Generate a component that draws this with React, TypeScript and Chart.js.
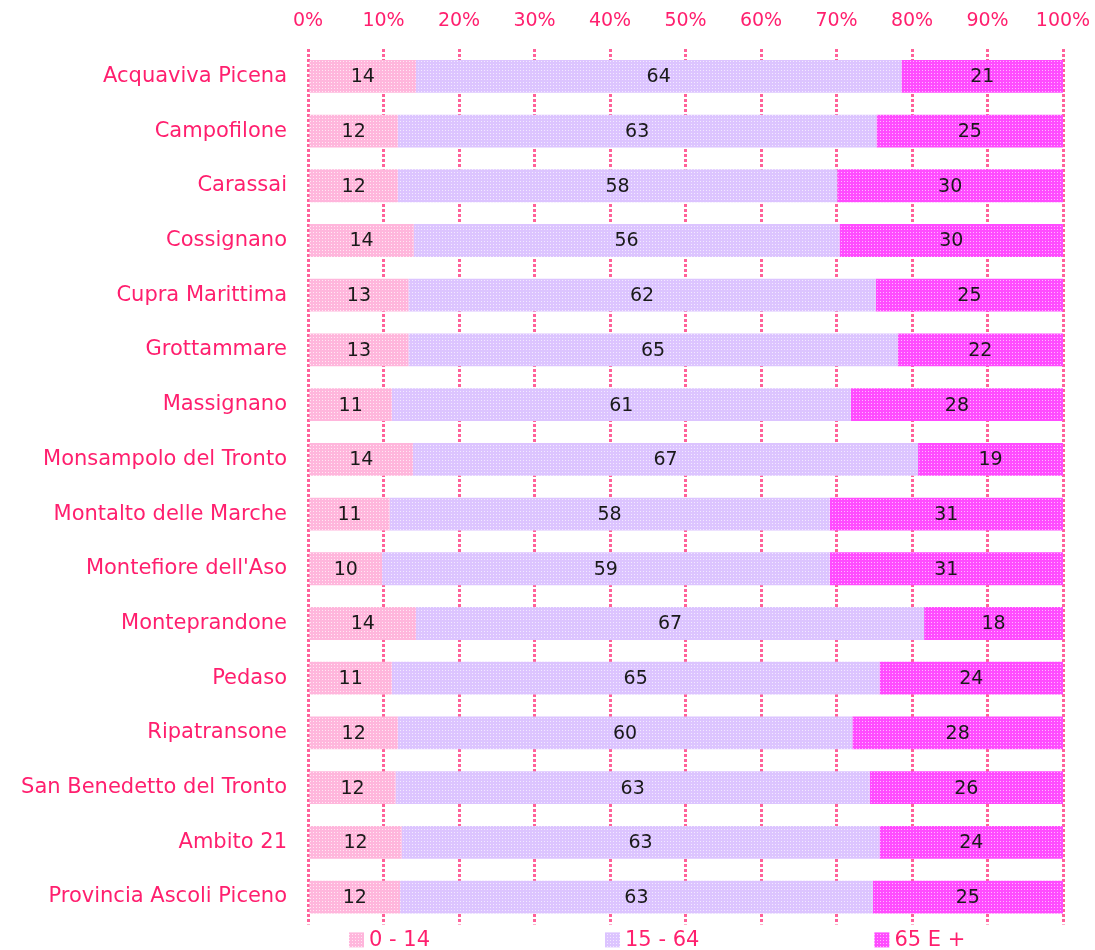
import React, { useEffect, useRef } from "react";
import { Chart, registerables } from "chart.js";

Chart.register(...registerables);

const categories = [
  "Acquaviva Picena",
  "Campofilone",
  "Carassai",
  "Cossignano",
  "Cupra Marittima",
  "Grottammare",
  "Massignano",
  "Monsampolo del Tronto",
  "Montalto delle Marche",
  "Montefiore dell'Aso",
  "Monteprandone",
  "Pedaso",
  "Ripatransone",
  "San Benedetto del Tronto",
  "Ambito 21",
  "Provincia Ascoli Piceno",
];

const age0to14 = [14.3, 11.9, 11.9, 14.0, 13.3, 13.3, 11.1, 13.9, 10.8, 9.8, 14.3, 11.1, 11.9, 11.6, 12.4, 12.2];
const age15to64 = [64.3, 63.4, 58.2, 56.4, 61.9, 64.8, 60.8, 66.9, 58.3, 59.3, 67.3, 64.6, 60.2, 62.8, 63.3, 62.6];
const age65plus = [21.4, 24.7, 29.9, 29.6, 24.8, 21.9, 28.1, 19.2, 30.9, 30.9, 18.4, 24.3, 27.9, 25.6, 24.3, 25.2];

const seriesNames = ["0 - 14", "15 - 64", "65 E +"];
const xTickStep = 10;

const PINK_TEXT = "#ff1f6e";
const FONT = "'DejaVu Sans', Verdana, sans-serif";

function makePattern(base: string, light: string): CanvasPattern | string {
  const c = document.createElement("canvas");
  c.width = 3;
  c.height = 3;
  const ctx = c.getContext("2d");
  if (!ctx) return base;
  ctx.fillStyle = base;
  ctx.fillRect(0, 0, 3, 3);
  ctx.fillStyle = light;
  ctx.fillRect(1, 1, 1, 1);
  const p = ctx.createPattern(c, "repeat");
  return p || base;
}

export default function App() {
  const ref = useRef<HTMLCanvasElement | null>(null);

  useEffect(() => {
    if (!ref.current) return;
    const fills = [
      makePattern("#ffb6dc", "#ffe8f3"),
      makePattern("#dcc4ff", "#f2e9ff"),
      makePattern("#ff4cff", "#ffb8ff"),
    ];

    const valueLabels = {
      id: "valueLabels",
      afterDatasetsDraw(chart: any) {
        const ctx = chart.ctx;
        ctx.save();
        ctx.font = `19px ${FONT}`;
        ctx.fillStyle = "#1a1a1a";
        ctx.textAlign = "center";
        ctx.textBaseline = "middle";
        chart.data.datasets.forEach((ds: any, di: number) => {
          const meta = chart.getDatasetMeta(di);
          meta.data.forEach((el: any, i: number) => {
            const v = ds.data[i];
            const cx = (el.x + el.base) / 2;
            ctx.fillText(String(Math.round(v)), cx, el.y + 1);
          });
        });
        ctx.restore();
      },
    };

    const customLegend = {
      id: "customLegend",
      afterDraw(chart: any) {
        const ctx = chart.ctx;
        const area = chart.chartArea;
        ctx.save();
        ctx.font = `21px ${FONT}`;
        ctx.textBaseline = "middle";
        ctx.textAlign = "left";
        const gap = 175;
        let x = area.left + 41;
        const yBox = area.bottom + 8;
        chart.data.datasets.forEach((ds: any, di: number) => {
          ctx.fillStyle = fills[di];
          ctx.fillRect(x, yBox, 15, 15);
          ctx.fillStyle = PINK_TEXT;
          const tx = x + 20;
          ctx.fillText(ds.label, tx, yBox + 8);
          const w = ctx.measureText(ds.label).width;
          x = tx + w + gap;
        });
        ctx.restore();
      },
    };

    const chart = new Chart(ref.current, {
      type: "bar",
      data: {
        labels: categories,
        datasets: [
          { label: seriesNames[0], data: age0to14, backgroundColor: fills[0] as any },
          { label: seriesNames[1], data: age15to64, backgroundColor: fills[1] as any },
          { label: seriesNames[2], data: age65plus, backgroundColor: fills[2] as any },
        ],
      },
      options: {
        indexAxis: "y",
        responsive: false,
        animation: false,
        devicePixelRatio: 1,
        layout: { padding: { left: 0, right: 32, top: 0, bottom: 15 } },
        datasets: {
          bar: { barPercentage: 0.6, categoryPercentage: 1.0, borderWidth: 0 },
        },
        plugins: {
          legend: { display: false },
          tooltip: { enabled: false },
          title: { display: false },
        },
        scales: {
          x: {
            type: "linear",
            position: "top",
            stacked: true,
            min: 0,
            max: 100,
            afterFit: (scale: any) => {
              scale.height = 49;
              scale.paddingLeft = 0;
              scale.paddingRight = 0;
            },
            ticks: {
              stepSize: xTickStep,
              autoSkip: false,
              maxRotation: 0,
              padding: 17,
              color: PINK_TEXT,
              font: { family: FONT, size: 19 },
              callback: (v: any) => `${v}%`,
            },
            grid: {
              display: true,
              drawTicks: false,
              color: "rgba(255, 30, 110, 0.7)",
              lineWidth: 3,
            },
            border: { display: false, dash: [3, 2] },
          },
          y: {
            stacked: true,
            afterFit: (scale: any) => {
              scale.width = 308;
            },
            ticks: {
              padding: 13,
              color: PINK_TEXT,
              font: { family: FONT, size: 21 },
              autoSkip: false,
            },
            grid: { display: false },
            border: { display: false },
          },
        },
      } as any,
      plugins: [valueLabels, customLegend],
    });

    return () => chart.destroy();
  }, []);

  return (
    <canvas
      ref={ref}
      width={1095}
      height={950}
      style={{ position: "absolute", left: 0, top: 0, width: 1095, height: 950 }}
    />
  );
}
